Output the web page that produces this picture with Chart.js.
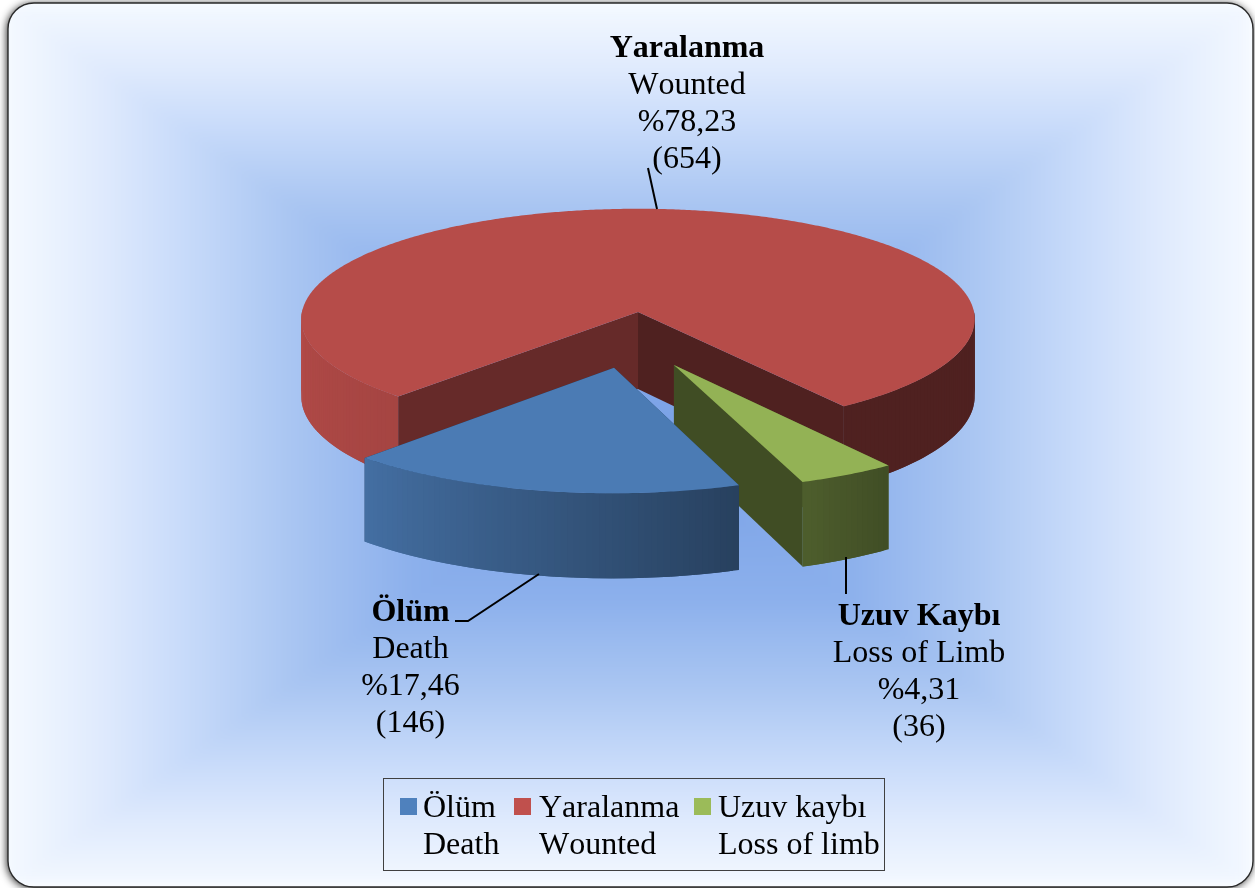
<!DOCTYPE html>
<html>
<head>
<meta charset="utf-8">
<title>Yaralanma</title>
<script src="https://cdn.jsdelivr.net/npm/chart.js@4"></script>
<style>
  html, body { margin: 0; padding: 0; background: #fff; }
  canvas { display: block; }
</style>
</head>
<body>
<canvas id="pieChart" width="1255" height="888"></canvas>
<script>
// Chart values
const legendTr = ['Ölüm', 'Yaralanma', 'Uzuv kaybı'];
const legendEn = ['Death', 'Wounted', 'Loss of limb'];
const labelTr = ['Ölüm', 'Yaralanma', 'Uzuv Kaybı'];
const labelEn = ['Death', 'Wounted', 'Loss of Limb'];
const percents = ['%17,46', '%78,23', '%4,31'];
const counts = [146, 654, 36];
const colors = ['#4f81bd', '#c0504d', '#9bbb59'];

// Explosion of each slice: distance and direction (degrees clockwise from top)
const explodeBy = [167, 0, 161];
const explodeDir = [188, 0, 167.5];

// Camera: vertical squash, perspective distance, thickness of the pie
const squash = 0.327;
const camDist = 5250;
const thickness = 77;

const serif = '"Liberation Serif"';

// Where the text blocks sit
const labelPos = [
    {x: 410.5, y: 621},
    {x: 687, y: 57},
    {x: 919, y: 625}
];
const leaders = [
    [[539, 574], [468, 621], [455, 621]],
    [[648, 168], [657, 209]],
    [[846, 557], [846, 594]]
];
const legendBox = {left: 383.5, top: 778.5, right: 884.5, bottom: 870.5};
const legendSwatchX = [400, 514, 694];
const legendTextX = [423, 539, 718];

// Background stops, from the centre of the frame out to its edge
const bgStops = [
    [0, [120, 160, 230]],
    [0.35, [140, 176, 236]],
    [0.55, [170, 198, 242]],
    [0.72, [200, 219, 250]],
    [0.85, [223, 234, 253]],
    [1, [244, 249, 255]]
];

function lerpStops(stops, t) {
    for (let i = 1; i < stops.length; i++) {
        if (t <= stops[i][0]) {
            const f = (t - stops[i - 1][0]) / (stops[i][0] - stops[i - 1][0]);
            return stops[i - 1][1].map((c, n) => c + (stops[i][1][n] - c) * f);
        }
    }
    return stops[stops.length - 1][1];
}

function shadeColor(hex, f) {
    const n = parseInt(hex.slice(1), 16);
    const r = Math.round((n >> 16) * f);
    const g = Math.round(((n >> 8) & 255) * f);
    const b = Math.round((n & 255) * f);
    return `rgb(${r},${g},${b})`;
}

// Light on the outer wall, by the way the wall faces (left is positive)
function wallShade(phi) {
    if (phi < -36) return 0.41;
    if (phi < 43) return 0.41 + (phi + 36) * 0.0057;
    return 0.86 + Math.min(phi - 43, 47) * 0.0015;
}

const framePlugin = {
    id: 'frame',
    beforeDraw(chart) {
        const ctx = chart.ctx;
        const x = 8, y = 3, w = 1245, h = 884, r = 26;
        const off = document.createElement('canvas');
        off.width = chart.width;
        off.height = chart.height;
        const octx = off.getContext('2d');
        const img = octx.createImageData(off.width, off.height);
        for (let py = 0; py < off.height; py++) {
            for (let px = 0; px < off.width; px++) {
                const t = Math.min(1, Math.max(Math.abs(px - 630) / 622, Math.abs(py - 445) / 442));
                const c = lerpStops(bgStops, t);
                const p = (py * off.width + px) * 4;
                img.data[p] = c[0];
                img.data[p + 1] = c[1];
                img.data[p + 2] = c[2];
                img.data[p + 3] = 255;
            }
        }
        octx.putImageData(img, 0, 0);

        ctx.save();
        ctx.beginPath();
        ctx.roundRect(x, y, w, h, r);
        ctx.shadowColor = 'rgba(0,0,0,0.9)';
        ctx.shadowBlur = 8;
        ctx.shadowOffsetX = -1;
        ctx.shadowOffsetY = 1;
        ctx.fillStyle = '#fff';
        ctx.fill();
        ctx.restore();

        // slight blur so the diagonals of the box gradient stay soft
        ctx.save();
        ctx.beginPath();
        ctx.roundRect(x, y, w, h, r);
        ctx.clip();
        ctx.filter = 'blur(7px)';
        ctx.drawImage(off, 0, 0);
        ctx.restore();

        ctx.save();
        ctx.beginPath();
        ctx.roundRect(x, y, w, h, r);
        ctx.strokeStyle = '#2a2a2a';
        ctx.lineWidth = 1.4;
        ctx.stroke();
        ctx.restore();
    }
};

// Draws the arcs of the pie as 3D slices, using the angles Chart.js worked out
const pie3dPlugin = {
    id: 'pie3d',
    beforeDatasetDraw(chart) {
        const ctx = chart.ctx;
        const arcs = chart.getDatasetMeta(0).data;
        // back slice first, then green, then blue in front of it
        [1, 2, 0].forEach(i => drawSlice(ctx, arcs[i], i));
        return false;
    }
};

function drawSlice(ctx, arc, i) {
    const p = arc.getProps(['x', 'y', 'startAngle', 'endAngle', 'outerRadius']);
    const color = arc.options.backgroundColor;
    const dir = (explodeDir[i] - 90) * Math.PI / 180;
    const du = arc.options.offset * Math.cos(dir);
    const dv = arc.options.offset * Math.sin(dir);

    const project = (u, v) => {
        const s = camDist / (camDist - v);
        return {x: p.x + u * s, y: p.y + squash * v * s, drop: thickness * s};
    };
    const rim = a => project(du + p.outerRadius * Math.cos(a), dv + p.outerRadius * Math.sin(a));
    const apex = project(du, dv);

    const quad = (a, b, fill) => {
        ctx.beginPath();
        ctx.moveTo(a.x, a.y);
        ctx.lineTo(b.x, b.y);
        ctx.lineTo(b.x, b.y + b.drop);
        ctx.lineTo(a.x, a.y + a.drop);
        ctx.closePath();
        ctx.fillStyle = fill;
        ctx.fill();
    };

    // cut faces
    quad(apex, rim(p.startAngle), shadeColor(color, 0.53));
    quad(apex, rim(p.endAngle), shadeColor(color, 0.41));

    // outer wall, only the part turned towards the viewer; each strip runs on
    // under the next one so no seams show
    const step = Math.PI / 180;
    for (let a = p.startAngle; a < p.endAngle; a += step) {
        const b = Math.min(a + step, p.endAngle);
        const mid = (a + b) / 2;
        if (Math.sin(mid) < -0.02) continue;
        // angle of the wall normal measured from the viewer, left is positive
        const phi = Math.atan2(-Math.cos(mid), Math.sin(mid)) * 180 / Math.PI;
        quad(rim(a), rim(Math.min(b + step, p.endAngle)), shadeColor(color, wallShade(phi)));
    }

    // top face
    ctx.beginPath();
    ctx.moveTo(apex.x, apex.y);
    for (let a = p.startAngle; a < p.endAngle; a += step / 2) {
        const q = rim(a);
        ctx.lineTo(q.x, q.y);
    }
    const last = rim(p.endAngle);
    ctx.lineTo(last.x, last.y);
    ctx.closePath();
    ctx.fillStyle = shadeColor(color, 0.95);
    ctx.fill();
}

// Data labels, leader lines and the legend box
const textPlugin = {
    id: 'texts',
    afterDraw(chart) {
        const ctx = chart.ctx;
        ctx.save();
        ctx.fillStyle = '#000';
        ctx.textBaseline = 'alphabetic';
        ctx.fontKerning = 'none';

        ctx.strokeStyle = '#000';
        ctx.lineWidth = 2;
        leaders.forEach(line => {
            ctx.beginPath();
            line.forEach((pt, n) => n ? ctx.lineTo(pt[0], pt[1]) : ctx.moveTo(pt[0], pt[1]));
            ctx.stroke();
        });

        ctx.textAlign = 'center';
        counts.forEach((c, i) => {
            const pos = labelPos[i];
            ctx.font = `bold 32px ${serif}`;
            ctx.fillText(labelTr[i], pos.x, pos.y);
            ctx.font = `32px ${serif}`;
            ctx.fillText(labelEn[i], pos.x, pos.y + 37);
            ctx.fillText(percents[i], pos.x, pos.y + 74);
            ctx.fillText(`(${c})`, pos.x, pos.y + 111);
        });

        // legend
        const box = legendBox;
        ctx.strokeStyle = '#404040';
        ctx.lineWidth = 1;
        ctx.strokeRect(box.left, box.top, box.right - box.left, box.bottom - box.top);
        ctx.textAlign = 'left';
        ctx.font = `32px ${serif}`;
        counts.forEach((c, i) => {
            ctx.fillStyle = colors[i];
            ctx.fillRect(legendSwatchX[i], 798, 17, 17);
            ctx.fillStyle = '#000';
            ctx.fillText(legendTr[i], legendTextX[i], 817);
            ctx.fillText(legendEn[i], legendTextX[i], 854);
        });
        ctx.restore();
    }
};

new Chart(document.getElementById('pieChart'), {
    type: 'pie',
    data: {
        labels: legendTr,
        datasets: [{
            data: counts,
            backgroundColor: colors,
            offset: explodeBy,
            borderWidth: 0,
            clip: false
        }]
    },
    options: {
        responsive: false,
        animation: false,
        rotation: 160,
        radius: 336,
        // puts the centre of the pie at 638, 312
        layout: {padding: {left: 21, bottom: 264}},
        plugins: {
            legend: {display: false},
            tooltip: {enabled: false}
        }
    },
    plugins: [framePlugin, pie3dPlugin, textPlugin]
});
</script>
</body>
</html>
